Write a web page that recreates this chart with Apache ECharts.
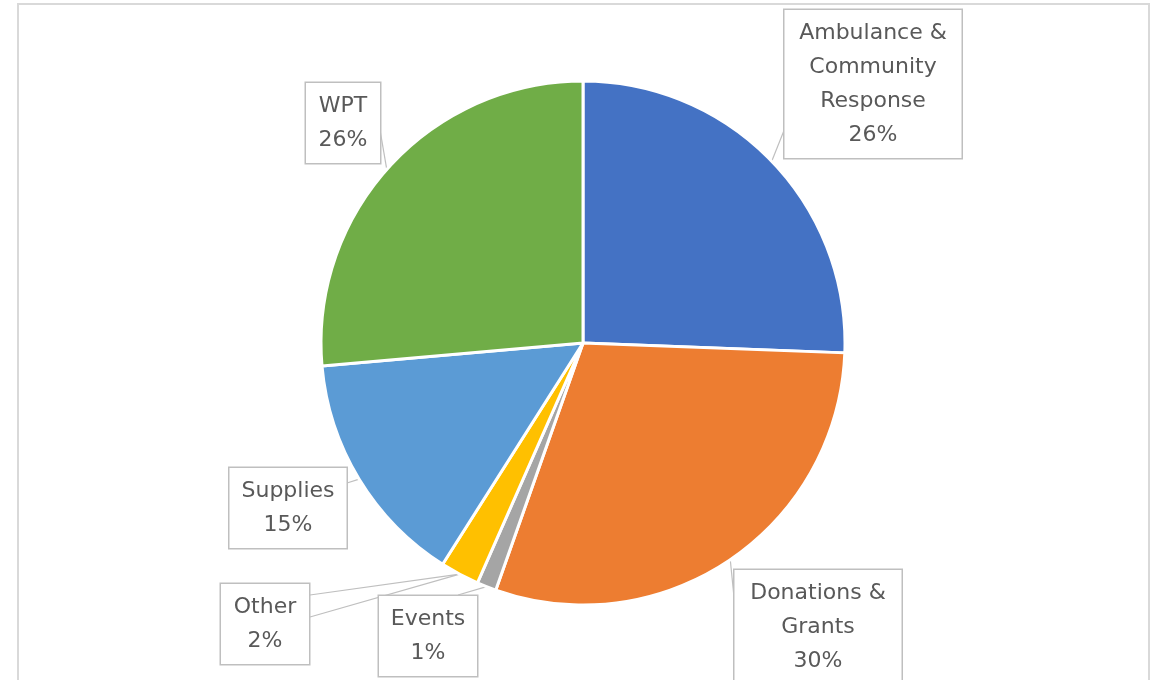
<!DOCTYPE html>
<html>
<head>
<meta charset="utf-8">
<script src="https://cdn.jsdelivr.net/npm/echarts@6/dist/echarts.min.js"></script>
<style>
  html, body { margin: 0; padding: 0; background: #fff; }
  #chart { width: 1160px; height: 680px; }
</style>
</head>
<body>
<div id="chart"></div>
<script>
// categories, in clockwise order from 12 o'clock
const categories = ['Ambulance & Community Response', 'Donations & Grants', 'Events', 'Other', 'Supplies', 'WPT'];
// shares in percent
const shares = [25.6, 29.8, 1.2, 2.4, 14.6, 26.4];
// how each name wraps inside its callout
const wrappedNames = ['Ambulance &\nCommunity\nResponse', 'Donations &\nGrants', 'Events', 'Other', 'Supplies', 'WPT'];

const colors = ['#4472C4', '#ED7D31', '#A5A5A5', '#FFC000', '#5B9BD5', '#70AD47'];

const PIE_CENTER = [583, 343];
const PIE_RADIUS = 262;

// callout boxes: centre x, top y, box width, where the leader meets the box,
// and (optionally) the angle on the rim where the leader starts
const calloutBoxes = [
  { cx: 873, top: 9, w: 177, attach: [[785, 128]] },
  { cx: 818, top: 569, w: 167, attach: [[735, 607]] },
  { cx: 428, top: 595, w: 98, attach: [[458, 595]] },
  { cx: 265, top: 583, w: 88, attach: [[310, 595], [310, 617]] },
  { cx: 288, top: 467, w: 117, attach: [[347, 483]] },
  { cx: 343, top: 82, w: 74, attach: [[380, 130]], rimAngle: 311.5 }
];
const padV = 6;

function rimPoint(deg) {
  const a = deg * Math.PI / 180;
  return [PIE_CENTER[0] + PIE_RADIUS * Math.sin(a), PIE_CENTER[1] - PIE_RADIUS * Math.cos(a)];
}

const chart = echarts.init(document.getElementById('chart'));

const data = categories.map((name, i) => ({
  name: name,
  value: shares[i],
  itemStyle: { color: colors[i] },
  label: { width: calloutBoxes[i].w - 4 }
}));

chart.setOption({
  backgroundColor: '#fff',
  animation: false,
  graphic: [{
    type: 'rect',
    shape: { x: 18, y: 4, width: 1131, height: 720 },
    style: { fill: 'none', stroke: '#D9D9D9', lineWidth: 2 },
    silent: true
  }],
  series: [{
    type: 'pie',
    center: PIE_CENTER,
    radius: PIE_RADIUS,
    startAngle: 90,
    clockwise: true,
    avoidLabelOverlap: false,
    itemStyle: { borderColor: '#fff', borderWidth: 3 },
    label: {
      show: true,
      position: 'outside',
      formatter: (p) => wrappedNames[p.dataIndex] + '\n' + Math.round(p.percent) + '%',
      fontFamily: 'DejaVu Sans',
      fontSize: 22,
      lineHeight: 34,
      color: '#595959',
      align: 'center',
      backgroundColor: '#fff',
      borderColor: '#BFBFBF',
      borderWidth: 1.5,
      padding: [padV, 2]
    },
    labelLine: {
      show: true,
      length: 10,
      length2: 10,
      lineStyle: { color: '#BFBFBF', width: 1.2 }
    },
    labelLayout: (params) => {
      const b = calloutBoxes[params.dataIndex];
      const rim = b.rimAngle != null ? rimPoint(b.rimAngle)
        : (params.labelLinePoints ? params.labelLinePoints[0] : null);
      const out = {
        x: b.cx,
        y: b.top + 1,
        align: 'center',
        verticalAlign: 'top'
      };
      if (rim) {
        out.labelLinePoints = b.attach.length > 1
          ? [b.attach[0], rim, b.attach[1]]
          : [rim, rim, b.attach[0]];
      }
      return out;
    },
    data: data
  }]
});
</script>
</body>
</html>
